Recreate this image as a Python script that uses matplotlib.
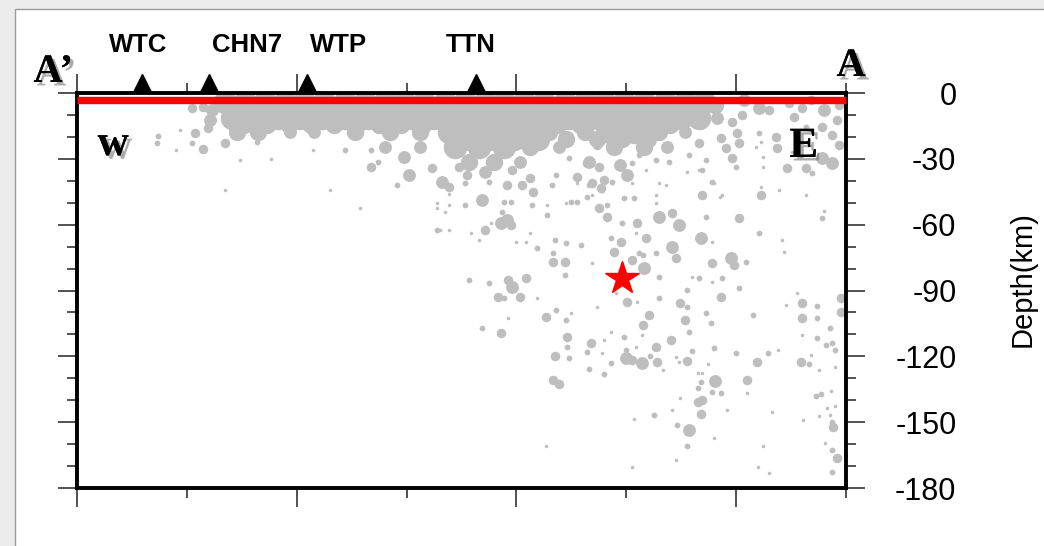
# Depth cross-section A'-A: seismicity, stations and mainshock
import numpy as np
import matplotlib
matplotlib.use('Agg')
import matplotlib.pyplot as plt
import matplotlib.patheffects as pe
from matplotlib.patches import Rectangle

plt.rcParams['axes.unicode_minus'] = False

# ---- DATA (distance along profile km, depth km) grouped by magnitude ----
# magnitude 4.8
quakes_m48 = [(13.5, 4.1), (15.3, 4.1), (17.1, 4.1), (18.9, 4.1), (20.7, 4.1), (22.5, 4.1),
              (24.4, 4.1), (26.2, 4.1), (28.0, 4.1), (29.8, 4.1), (31.6, 4.1), (33.5, 4.1),
              (35.3, 4.1), (37.1, 4.1), (38.9, 4.1), (40.7, 4.1), (42.5, 4.1), (44.4, 4.1),
              (46.2, 4.1), (48.0, 4.1), (49.8, 4.1), (51.6, 4.1), (53.5, 4.1), (55.3, 4.1),
              (57.1, 4.1),
              (14.4, 7.8), (16.2, 7.8), (18.0, 7.8), (19.8, 7.8), (21.6, 7.8), (23.5, 7.8),
              (25.3, 7.8), (27.1, 7.8), (28.9, 7.8), (30.7, 7.8), (32.6, 7.8), (34.4, 7.8),
              (36.2, 7.8), (38.0, 7.8), (39.8, 7.8), (41.6, 7.8), (43.5, 7.8), (45.3, 7.8),
              (47.1, 7.8), (48.9, 7.8), (50.7, 7.8), (52.6, 7.8), (54.4, 7.8), (56.2, 7.8),
              (14.1, 11.4), (16.2, 11.4), (18.3, 11.4), (20.3, 11.4), (22.3, 11.4), (24.4, 11.4),
              (26.5, 11.4), (28.5, 11.4), (30.5, 11.4), (32.5, 11.4), (34.6, 11.4), (36.6, 11.4),
              (38.6, 11.4), (40.7, 11.4), (42.8, 11.4), (44.8, 11.4), (46.8, 11.4), (48.9, 11.4),
              (51.0, 11.4), (53.0, 11.4), (55.0, 11.4), (56.6, 11.4),
              (33.9, 17.8), (36.2, 17.8), (38.5, 17.8), (40.7, 17.8), (48.5, 17.8), (50.7, 17.8),
              (35.3, 21.0), (37.5, 21.0), (39.8, 21.0), (42.0, 21.0),
              (34.4, 24.6), (36.6, 24.6), (38.9, 24.6)]

# magnitude 4.2
quakes_m42 = [(14.6, 17.8), (16.5, 17.8), (25.3, 17.8), (28.5, 17.8), (31.2, 17.8), (43.0, 17.8),
              (46.2, 17.8), (53.0, 17.8), (41.2, 24.6), (48.9, 24.6), (51.6, 24.6),
              (35.7, 31.5), (38.0, 31.5), (58.1, 5.5),
              (15.2, 14.6), (17.3, 14.6), (19.3, 14.6), (21.3, 14.6), (23.4, 14.6), (25.5, 14.6),
              (27.5, 14.6), (29.5, 14.6), (31.5, 14.6), (33.6, 14.6), (35.6, 14.6), (37.6, 14.6),
              (39.7, 14.6), (41.8, 14.6), (43.8, 14.6), (45.8, 14.6), (47.9, 14.6), (50.0, 14.6),
              (52.0, 14.6), (54.0, 14.6),
              (44.5, 21.0), (47.3, 21.0), (49.6, 21.0), (52.0, 21.0)]

# magnitude 3.6
quakes_m36 = [(19.4, 17.8), (21.6, 17.8), (55.3, 17.8), (28.0, 24.6), (31.2, 24.6), (43.9, 24.6),
              (53.7, 24.6), (40.3, 31.5), (46.6, 31.5), (37.1, 36.0), (12.3, 7.8), (12.1, 12.3),
              (62.1, 6.8), (68.0, 7.8), (67.8, 29.6), (68.7, 31.9), (58.3, 11.4), (60.7, 3.2),
              (29.8, 29.2), (30.2, 37.4), (33.2, 40.6), (49.4, 32.8), (50.1, 37.4), (36.9, 48.8),
              (39.1, 57.9), (38.6, 59.3), (51.6, 79.8), (53.0, 56.5), (54.8, 60.2), (54.2, 70.2),
              (56.8, 66.1), (59.5, 75.2), (39.6, 88.5), (50.0, 120.8), (51.4, 123.1),
              (58.1, 131.3), (55.7, 153.7)]

# magnitude 3.0
quakes_m30 = [(10.5, 6.8), (11.5, 6.4), (11.9, 16.0),
              (59.6, 13.2), (60.5, 10.0), (60.1, 18.2), (60.3, 22.8), (63.0, 7.8), (65.3, 10.9),
              (66.0, 6.8), (63.6, 20.1), (68.7, 19.2), (67.8, 15.5), (63.7, 25.1), (64.6, 34.2),
              (66.4, 34.2), (62.3, 46.5), (59.1, 25.1), (59.6, 29.6), (64.8, 4.6), (66.8, 3.2),
              (69.4, 5.5), (69.2, 12.3), (69.4, 23.7), (56.6, 22.8), (58.6, 20.5),
              (10.7, 18.2), (11.5, 25.5), (13.5, 22.8), (26.8, 33.7), (32.3, 34.2), (34.8, 33.7),
              (35.5, 37.4), (39.1, 42.0), (39.6, 35.1), (41.2, 38.8), (41.5, 45.1), (45.5, 38.3),
              (46.4, 31.9), (47.3, 23.7), (47.5, 33.7), (48.0, 39.7),
              (33.9, 42.9), (40.5, 42.0), (46.9, 41.0), (47.7, 43.3), (47.5, 52.4), (56.9, 46.5),
              (37.1, 62.5), (39.5, 60.2), (44.4, 77.1), (43.3, 77.1), (48.2, 56.5), (49.5, 67.9),
              (51.0, 59.3), (51.8, 66.1), (50.5, 76.2), (54.2, 54.7), (54.5, 75.2), (57.8, 77.5),
              (59.8, 78.4), (60.3, 57.0), (58.6, 93.0), (48.9, 72.5),
              (38.3, 93.0), (39.2, 85.3), (40.3, 93.0), (40.9, 84.4), (38.6, 109.4), (42.7, 102.1),
              (44.6, 111.3), (46.8, 114.0), (50.1, 95.3), (52.1, 101.2), (51.5, 105.8),
              (54.9, 95.8), (55.3, 103.5), (66.0, 102.6), (69.5, 99.9), (66.0, 95.8), (69.5, 93.5),
              (43.5, 119.9), (43.3, 130.9), (43.9, 132.7), (50.5, 121.8), (52.7, 115.8),
              (52.8, 122.7), (54.1, 112.6), (55.5, 122.2), (56.5, 140.9), (56.9, 140.0),
              (56.8, 146.4), (61.0, 130.9), (61.9, 122.7), (65.9, 122.7), (68.8, 152.3),
              (69.2, 166.4)]

# magnitude 2.0
quakes_m20 = [(7.4, 19.6), (7.3, 22.8), (10.5, 22.8), (16.4, 22.3), (24.4, 26.0), (26.8, 26.0),
              (27.4, 31.5), (29.1, 42.0), (37.5, 40.6), (43.2, 42.0), (43.6, 37.4), (44.8, 29.6),
              (46.6, 42.0), (66.4, 15.5), (62.1, 18.2), (66.9, 36.5), (57.8, 40.6), (56.9, 35.1),
              (55.7, 28.3), (53.9, 31.5), (50.5, 31.9), (51.2, 28.3), (52.7, 30.6), (57.3, 30.6),
              (60.0, 33.7), (47.8, 44.2),
              (35.3, 41.0), (48.7, 40.6), (35.3, 51.1), (38.9, 49.7), (39.5, 49.7), (41.4, 51.1),
              (45.5, 49.7), (46.4, 47.4), (48.2, 51.1), (49.8, 47.9), (50.7, 47.9), (32.8, 62.5),
              (38.7, 54.3), (41.9, 70.7), (42.8, 55.6), (43.3, 73.0), (43.5, 67.0), (44.5, 68.4),
              (45.0, 49.7), (45.9, 69.3), (48.6, 66.1), (49.6, 59.3), (52.7, 73.0), (51.2, 73.0),
              (57.3, 56.5), (60.9, 77.1), (62.1, 63.8), (67.8, 57.0), (60.3, 88.9), (58.7, 84.4),
              (51.5, 73.9), (44.4, 83.0), (53.0, 83.9), (55.5, 89.8), (56.6, 84.4),
              (35.7, 85.3), (37.5, 86.6), (38.9, 93.5), (36.9, 107.2), (43.6, 99.0), (44.5, 103.5),
              (53.0, 93.5), (55.5, 97.6), (57.3, 100.3), (57.7, 104.9), (61.5, 101.2),
              (67.4, 102.6), (68.5, 107.2), (67.4, 111.7), (68.2, 114.9), (67.4, 97.1),
              (44.6, 115.8), (44.8, 120.8), (46.4, 118.1), (46.6, 125.9), (48.0, 128.1),
              (48.6, 123.1), (50.0, 117.2), (49.8, 111.3), (52.2, 119.9), (56.0, 117.6),
              (55.7, 109.0), (56.8, 131.8), (55.5, 161.0), (54.6, 151.4), (52.5, 146.8),
              (57.8, 136.3), (58.6, 136.8), (58.0, 116.3), (60.0, 118.6), (62.9, 118.6),
              (66.6, 123.6), (68.7, 114.0), (69.0, 117.2), (67.3, 138.2), (67.7, 137.3),
              (68.7, 150.0), (68.7, 162.8), (68.7, 172.8), (56.5, 134.5)]

# magnitude 1.0
quakes_m10 = [(9.4, 16.9), (9.0, 26.0), (17.7, 30.1), (21.5, 26.0), (13.5, 44.2), (23.0, 44.2),
              (25.8, 52.4), (33.9, 46.1), (33.0, 62.5), (32.8, 52.4), (33.5, 54.3), (65.1, 26.9),
              (61.8, 24.6), (62.4, 29.2), (62.4, 33.7), (62.3, 22.3), (58.5, 47.4), (56.6, 35.1),
              (58.0, 41.0), (51.8, 35.1), (53.0, 41.0), (55.5, 36.0), (46.9, 46.5), (45.5, 41.0),
              (50.5, 41.0), (53.6, 42.0), (32.8, 50.2), (33.9, 51.1), (42.8, 51.1), (44.5, 50.2),
              (52.7, 46.5), (52.7, 50.2), (58.7, 46.5), (63.9, 44.2), (66.4, 46.5), (33.9, 62.5),
              (37.7, 59.3), (35.9, 63.8), (36.6, 67.0), (40.0, 67.9), (40.9, 67.9), (41.2, 63.8),
              (50.9, 63.8), (57.8, 67.9), (64.4, 72.5), (46.9, 77.5), (56.0, 83.9), (57.8, 86.2),
              (41.9, 93.5), (39.2, 102.6), (45.0, 100.3), (47.3, 97.6), (49.1, 91.2), (51.0, 95.3),
              (64.5, 96.7), (65.5, 91.2), (68.0, 53.8), (64.2, 67.0), (62.3, 42.9), (50.9, 115.8),
              (53.3, 126.3), (54.8, 122.7), (50.7, 148.7), (50.5, 170.5), (54.5, 167.4),
              (54.9, 139.1), (54.2, 144.6), (58.0, 157.3), (59.2, 144.6), (61.0, 136.8),
              (63.8, 117.2), (63.3, 145.5), (62.4, 161.0), (62.0, 170.5), (63.0, 173.3),
              (69.0, 125.0), (67.5, 126.3), (68.6, 135.9), (69.0, 142.7), (68.3, 143.6),
              (67.5, 147.3), (68.5, 146.8), (66.1, 149.1), (68.1, 159.6), (66.0, 110.4),
              (66.8, 119.5), (42.7, 161.0), (48.0, 112.6), (47.8, 118.6), (48.6, 109.0),
              (51.4, 110.4), (54.5, 120.4), (57.4, 123.6), (56.5, 127.7), (56.9, 127.7),
              (14.8, 30.6)]

station_names = ['WTC', 'CHN7', 'WTP', 'TTN']
station_dist = [5.9, 12.0, 20.9, 36.3]
label_dist = [5.6, 15.5, 23.8, 35.8]

mainshock_dist = 49.6
mainshock_depth = 84.4

depth_ticks = [0, -30, -60, -90, -120, -150, -180]


def marker_area(mag):
    # symbol diameter in pixels grows with magnitude
    d_px = 3.5 * 1.65 ** (mag - 1)
    return (d_px * 72 / 100) ** 2


# ---- FIGURE ----
fig = plt.figure(figsize=(10.44, 5.46), dpi=100)
fig.patch.set_facecolor('#ececec')
fig.add_artist(Rectangle((15 / 1044, -0.05), 1.1, 1.0335, transform=fig.transFigure,
                         facecolor='white', edgecolor='#9a9a9a', lw=1, zorder=0))

ax = fig.add_axes([77 / 1044, 1 - 488 / 546, 769 / 1044, 395 / 546])

for mag, quakes in [(4.8, quakes_m48), (4.2, quakes_m42), (3.6, quakes_m36),
                    (3.0, quakes_m30), (2.0, quakes_m20), (1.0, quakes_m10)]:
    q = np.array(quakes)
    ax.scatter(q[:, 0], -q[:, 1], s=marker_area(mag), c='#bebebe', linewidths=0, zorder=2)

# surface line
ax.plot([0, 70], [-3.2, -3.2], color='red', lw=5.3, solid_capstyle='butt', zorder=5, clip_on=False)

# mainshock
ax.plot(mainshock_dist, -mainshock_depth, marker='*', ms=25, color='red', mec='red', zorder=6)

# stations
xtr = ax.get_xaxis_transform()
ax.plot(station_dist, [1.025] * len(station_dist), '^', ms=12.5, color='black',
        transform=xtr, clip_on=False, zorder=6)
for name, xl in zip(station_names, label_dist):
    ax.text(xl, 1.1215, name, transform=xtr, ha='center', va='center',
            fontsize=18.5, fontweight='bold', family='Liberation Sans')

# profile end / direction labels with shadow
shadow = [pe.withSimplePatchShadow(offset=(2.5, -2.5), shadow_rgbFace='0.45', alpha=0.6), pe.Normal()]
for s, x, y in [("A\u2019", -0.031, 1.028), ("A", 1.0065, 1.043)]:
    ax.text(x, y, s, transform=ax.transAxes, ha='center', va='baseline', fontsize=29,
            fontweight='bold', family='Liberation Serif', path_effects=shadow, zorder=7)
for s, x, y in [("w", 0.047, 0.843), ("E", 0.945, 0.838)]:
    ax.text(x, y, s, transform=ax.transAxes, ha='center', va='baseline', fontsize=31,
            fontweight='bold', family='Liberation Serif', path_effects=shadow, zorder=7)

# axes
ax.set_xlim(0, 70)
ax.set_ylim(-180, 0)
ax.set_xticks(np.arange(0, 71, 20))
ax.set_xticks(np.arange(10, 71, 20), minor=True)
ax.set_yticks(depth_ticks)
ax.set_yticks(np.arange(-170, 0, 10), minor=True)
ax.tick_params(which='both', direction='out', width=1.1, color='#222222',
               top=True, bottom=True, left=True, right=True,
               labelbottom=False, labeltop=False, labelleft=False, labelright=True)
ax.tick_params(which='major', length=13.5)
ax.tick_params(which='minor', length=7)
ax.tick_params(axis='y', which='major', pad=66, labelsize=22)
for t in ax.yaxis.get_major_ticks():
    t.label2.set_horizontalalignment('right')
    t.label2.set_family('Liberation Sans')

for sp in ax.spines.values():
    sp.set_linewidth(2.8)
    sp.set_zorder(4)

ax.yaxis.set_label_position('right')
ax.set_ylabel('Depth(km)', fontsize=21, family='Liberation Sans')
ax.yaxis.set_label_coords(1.211, 0.53)

fig.savefig('out.png', dpi=100)
